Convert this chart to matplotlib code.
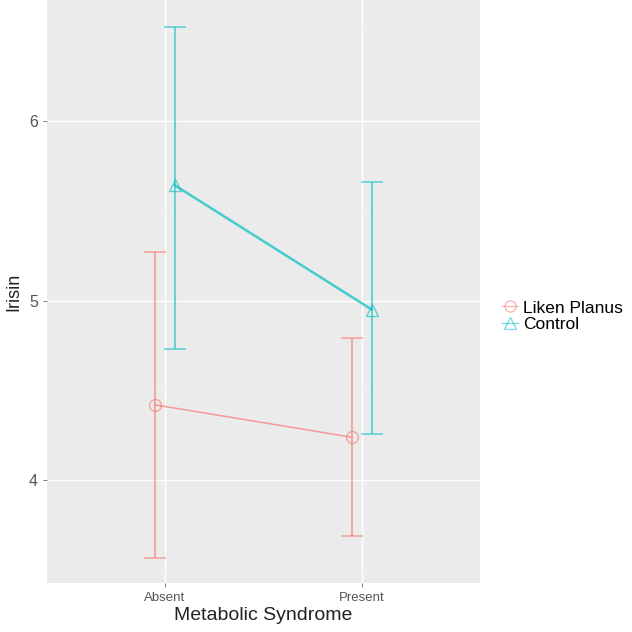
import numpy as np
import matplotlib.pyplot as plt
from matplotlib.lines import Line2D

plt.rcParams['font.family'] = ['Liberation Sans', 'DejaVu Sans']

# Данные: средние и границы интервалов
categories = ["Absent", "Present"]
groups = ["Liken Planus", "Control"]
liken_mean = [4.42, 4.24]
liken_low = [3.57, 3.69]
liken_high = [5.27, 4.79]
control_mean = [5.64, 4.95]
control_low = [4.73, 4.26]
control_high = [6.52, 5.66]

colors = ["#F8766D", "#00BFC4"]
markers = ["o", "^"]

fig = plt.figure(figsize=(6.32, 6.32), dpi=100)
ax = fig.add_axes([0.0744, 0.0775, 0.685, 0.9225])
ax.set_facecolor("#EBEBEB")
for s in ax.spines.values():
    s.set_visible(False)

x = np.arange(1, len(categories) + 1)
dodge = 0.05

series = [(liken_mean, liken_low, liken_high), (control_mean, control_low, control_high)]
for i, (m, lo, hi) in enumerate(series):
    xs = x + (-dodge if i == 0 else dodge)
    m = np.array(m)
    yerr = [m - np.array(lo), np.array(hi) - m]
    ax.errorbar(xs, m, yerr=yerr, color=colors[i], alpha=0.55, lw=1.5,
                capsize=8, capthick=1.3, fmt="none", zorder=3)
    ax.plot(xs, m, color=colors[i], lw=1.1 if i == 0 else 1.8, alpha=0.7, zorder=3)
    ax.plot(xs, m, linestyle="none", marker=markers[i], markersize=8.5,
            markerfacecolor="none", markeredgecolor=colors[i], markeredgewidth=1.0,
            alpha=0.6, zorder=4)

ax.set_xlim(0.4, 2.6)
ax.set_ylim(3.43, 6.67)
ax.set_xticks(x)
ax.set_xticklabels(categories, fontsize=9.5, color="#555555")
ax.set_yticks([4, 5, 6])
ax.set_yticklabels(["4", "5", "6"], fontsize=11.5, color="#555555")
ax.set_yticks([3.5, 4.5, 5.5, 6.5], minor=True)
ax.tick_params(axis="both", which="major", length=3, color="#666666", width=0.6)
ax.tick_params(axis="y", which="minor", length=0)
ax.grid(which="major", color="white", lw=1.0, zorder=0)
ax.grid(which="minor", axis="y", color="#F3F3F3", lw=0.5, zorder=0)
ax.set_axisbelow(True)

ax.set_xlabel("Metabolic Syndrome", fontsize=14, color="#222222", labelpad=2)
ax.set_ylabel("Irisin", fontsize=13, color="#222222", labelpad=5)

handles = [Line2D([0], [0], color=colors[i], marker=markers[i], markersize=8,
                  markerfacecolor="none", lw=1, alpha=0.5) for i in range(2)]
fig.legend(handles, groups, loc="center left", bbox_to_anchor=(0.77, 0.5),
           frameon=False, fontsize=12.5, handlelength=0.9, handletextpad=0.3,
           labelspacing=0.05)

fig.savefig("out.png", dpi=100)
